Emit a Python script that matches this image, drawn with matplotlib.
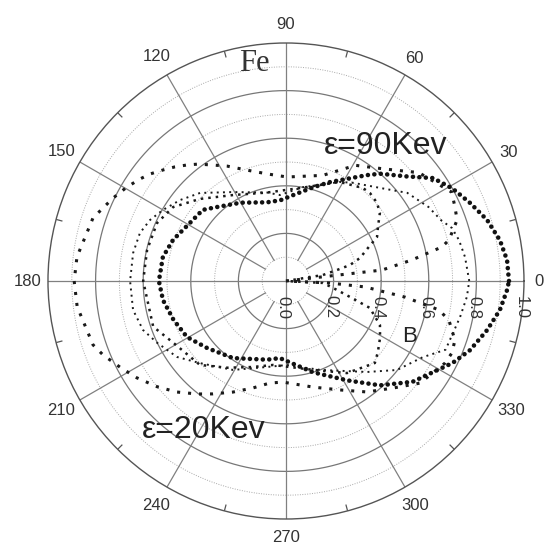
import numpy as np
import matplotlib
matplotlib.use("Agg")
import matplotlib.pyplot as plt

plt.rcParams['font.family'] = ['Liberation Sans', 'DejaVu Sans']

# angular distributions (angle in degrees, normalised intensity)
# bold loop
theta_a = [0, 5.4, 10.8, 16.9, 23, 29.1, 35, 41, 48.7, 52.6, 66, 73.8, 82.9, 94, 103.5,
           120, 133, 139.5, 148, 160, 169, 180, 188.8, 199, 209.5, 220.3, 235.5, 256.5,
           265.5, 286.5, 301.6, 312, 321.5, 333.8, 339.4, 346.3, 352.3, 357.7, 360]
r_a = [0.937, 0.933, 0.915, 0.883, 0.84, 0.80, 0.754, 0.67, 0.60, 0.56, 0.455, 0.41, 0.37,
       0.34, 0.34, 0.38, 0.425, 0.46, 0.47, 0.505, 0.527, 0.534, 0.523, 0.50, 0.478, 0.435,
       0.393, 0.34, 0.325, 0.40, 0.49, 0.59, 0.68, 0.78, 0.826, 0.87, 0.907, 0.93, 0.937]

# outer square-dot curve (eps = 20 keV)
theta_c = [0, 6.5, 9.5, 12.3, 14.1, 19.6, 23.6, 28.2, 39.3, 41.8, 49.6, 59, 70.8, 89.4, 100,
           109.4, 117.2, 122.5, 127, 130.5, 134.2, 137.9, 141.8, 145, 149.4, 154.4, 158.3,
           161.9, 173.4, 180, 187, 198.3, 202, 207.4, 213, 219.4, 225.5, 231.8, 237.1, 244.5,
           252.9, 261, 268.3, 284.3, 296.4, 306.1, 315, 322.7, 332.7, 336.6, 340.7, 346.5,
           349.3, 352.3, 355.7, 357.4, 360]
r_c = [0, 0.406, 0.537, 0.67, 0.706, 0.763, 0.775, 0.79, 0.72, 0.69, 0.62, 0.567, 0.47, 0.437,
       0.457, 0.494, 0.543, 0.578, 0.615, 0.641, 0.669, 0.696, 0.727, 0.748, 0.776, 0.806,
       0.828, 0.853, 0.884, 0.89, 0.884, 0.854, 0.829, 0.786, 0.747, 0.70, 0.654, 0.604,
       0.565, 0.517, 0.47, 0.434, 0.425, 0.46, 0.511, 0.577, 0.636, 0.708, 0.752, 0.76,
       0.752, 0.704, 0.654, 0.504, 0.333, 0.185, 0]

# small triangle loop
theta_d = [0, 7.6, 13.3, 17.7, 21.4, 27.4, 36, 44.7, 55.6, 61.4, 80, 94, 102, 120.8, 134.3,
           142.6, 150, 155.8, 161.8, 169.6, 180, 190.7, 198.9, 205.7, 214.9, 223.6, 239.2,
           257.5, 270.7, 291, 311.7, 321.3, 327.5, 330.9, 336.7, 348.3, 355, 360]
r_d = [0.77, 0.759, 0.747, 0.732, 0.70, 0.675, 0.63, 0.556, 0.50, 0.474, 0.40, 0.362, 0.38,
       0.435, 0.517, 0.56, 0.597, 0.626, 0.646, 0.653, 0.655, 0.654, 0.635, 0.60, 0.558,
       0.50, 0.435, 0.37, 0.353, 0.40, 0.512, 0.598, 0.633, 0.658, 0.73, 0.747, 0.763, 0.77]

# small dot curve with the B lobe
theta_e = [0, 9.2, 12.2, 14, 17.3, 21.9, 25.8, 30.4, 35.9, 40.6, 46.3, 50.4, 55.1, 61.4, 81.4,
           102, 121.6, 136.4, 146.8, 155.8, 167.4, 180, 199, 208.7, 224.3, 235.9, 249, 261.2,
           270.7, 286.9, 303.5, 317.3, 322.3, 328.8, 334.9, 342.2, 346, 350, 357, 360]
r_e = [0, 0.157, 0.22, 0.277, 0.326, 0.371, 0.425, 0.448, 0.487, 0.504, 0.511, 0.507, 0.49,
       0.474, 0.395, 0.38, 0.424, 0.5, 0.567, 0.594, 0.598, 0.60, 0.59, 0.54, 0.505, 0.44,
       0.387, 0.357, 0.36, 0.39, 0.464, 0.508, 0.488, 0.462, 0.436, 0.37, 0.277, 0.218,
       0.156, 0]

angle_labels = ['0', '30', '60', '90', '120', '150', '180', '210', '240', '270', '300', '330']
radial_labels = ['0.0', '0.2', '0.4', '0.6', '0.8', '1.0']

fig = plt.figure(figsize=(5.44, 5.45), dpi=100)
ax = fig.add_axes([0.0882, 0.0477, 0.875, 0.8734], projection='polar')
ax.set_ylim(0, 1)
ax.grid(False)
ax.set_xticks([])
ax.set_yticks([])
ax.spines['polar'].set_color('#555555')
ax.spines['polar'].set_linewidth(1.0)

# rings
circ = np.linspace(0, 2 * np.pi, 361)
for k in range(1, 10):
    rr = k / 10
    if k % 2 == 0:
        ax.plot(circ, np.full_like(circ, rr), color='#777777', lw=0.9, zorder=1)
    else:
        ax.plot(circ, np.full_like(circ, rr), color='#a8a8a8', lw=0.7,
                linestyle=(0, (1, 1.5)), zorder=1)

# spokes, minor ticks and angle labels
for i, lab in enumerate(angle_labels):
    deg = 30 * i
    t = np.deg2rad(deg)
    r0 = 0 if deg % 90 == 0 else 0.1
    ax.plot([t, t], [r0, 1], color='#808080', lw=0.9, zorder=1)
    ax.plot([t + np.deg2rad(15)] * 2, [0.975, 1.0], color='#555555', lw=0.9, zorder=1)
    rl = 1.062 + 0.016 * abs(np.sin(t)) + 0.012 * (len(lab) - 1) * abs(np.cos(t))
    ax.text(t, rl, lab, ha='center', va='center', fontsize=12, color='#333333')

for i, lab in enumerate(radial_labels):
    ax.annotate(lab, xy=(0, 0.2 * i), xytext=(-3, -26), textcoords='offset pixels',
                rotation=270, ha='center', va='center', fontsize=12, color='#333333')

# data curves drawn as dotted traces
ax.plot(np.deg2rad(theta_c), r_c, color='#1a1a1a', lw=2.2, linestyle=(0, (1, 2.6)),
        dash_capstyle='butt', zorder=3)
ax.plot(np.deg2rad(theta_d), r_d, color='#1a1a1a', lw=1.4, linestyle=(0, (1, 2.2)),
        dash_capstyle='butt', zorder=3)
ax.plot(np.deg2rad(theta_e), r_e, color='#1a1a1a', lw=1.8, linestyle=(0, (1, 2)),
        dash_capstyle='butt', zorder=3)
ax.plot(np.deg2rad(theta_a), r_a, color='#111111', lw=3.3, linestyle=(0, (0.01, 1.4)),
        dash_capstyle='round', zorder=4)

fig.text(0.467, 0.8826, 'Fe', family='Liberation Serif', fontsize=22, color='#333333',
         ha='center', va='center')
fig.text(0.7096, 0.732, 'ε=90Kev', fontsize=23, color='#222222', ha='center', va='center')
fig.text(0.375, 0.211, 'ε=20Kev', fontsize=23, color='#222222', ha='center', va='center')
fig.text(0.752, 0.382, 'B', fontsize=16, color='#222222', ha='center', va='center')

fig.savefig('out.png', dpi=100)
